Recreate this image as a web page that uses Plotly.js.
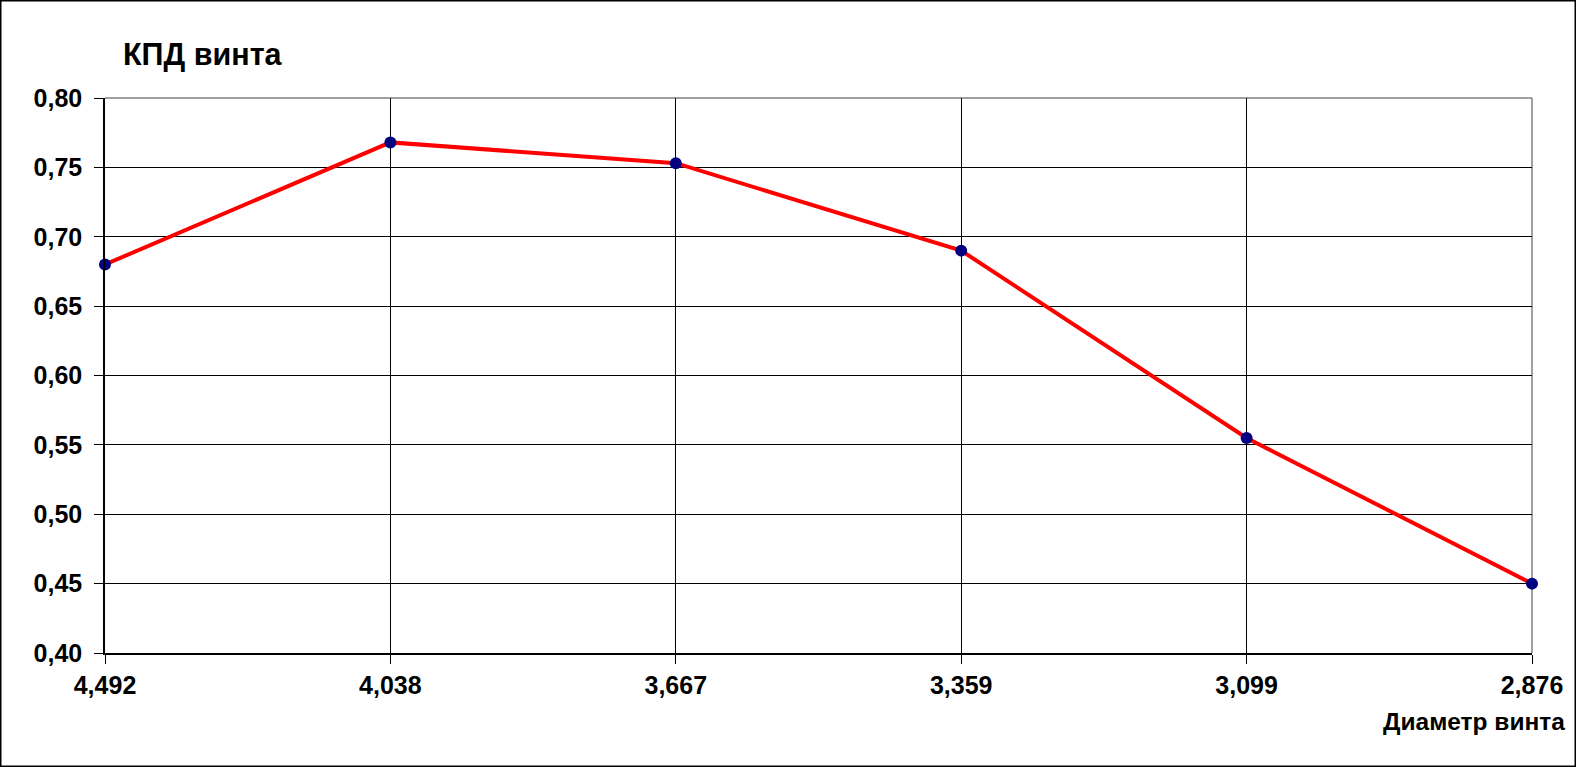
<!DOCTYPE html>
<html><head><meta charset="utf-8">
<script src="https://cdn.plot.ly/plotly-3.0.1.min.js"></script>
<style>html,body{margin:0;padding:0;background:#fff}#chart{width:1576px;height:767px}</style>
</head><body><div id="chart"></div>
<script>
const diameters = ["4,492", "4,038", "3,667", "3,359", "3,099", "2,876"];
const efficiency = [0.680, 0.768, 0.753, 0.690, 0.555, 0.450];
const yTickVals = [0.40, 0.45, 0.50, 0.55, 0.60, 0.65, 0.70, 0.75, 0.80];
const yTickText = ["0,40", "0,45", "0,50", "0,55", "0,60", "0,65", "0,70", "0,75", "0,80"];
const chartTitle = "КПД винта";
const xTitle = "Диаметр винта";

const W = 1576, H = 767;
const m = {l: 105, r: 44, t: 98, b: 114};
const pw = W - m.l - m.r, ph = H - m.t - m.b;
const px = v => (v - m.l) / pw;          // figure px -> paper x
const py = v => (H - m.b - v) / ph;      // figure px -> paper y
const font = "Arial, 'Liberation Sans', sans-serif";

const trace = {
  x: diameters, y: efficiency, type: 'scatter', mode: 'lines+markers',
  line: {color: '#ff0000', width: 4},
  marker: {color: '#000080', size: 12},
  cliponaxis: false,
  hoverinfo: 'x+y', showlegend: false
};

const layout = {
  width: W, height: H,
  margin: m,
  paper_bgcolor: '#ffffff', plot_bgcolor: '#ffffff',
  font: {family: font, color: '#000'},
  title: {text: chartTitle, font: {family: font, size: 30.5, weight: 'bold', color: '#000'},
          x: 123 / W, xanchor: 'left', xref: 'container', y: 1 - 54 / H, yanchor: 'middle', yref: 'container'},
  xaxis: {
    type: 'category', range: [0, diameters.length - 1],
    showgrid: true, gridcolor: '#000', gridwidth: 1,
    showline: true, linecolor: '#000', linewidth: 1.5,
    ticks: 'outside', ticklen: 9, tickcolor: '#000', tickwidth: 1,
    tickfont: {family: font, size: 25, weight: 'bold', color: '#000'},
    ticklabelstandoff: 0,
    zeroline: false, fixedrange: true
  },
  yaxis: {
    range: [0.40, 0.80], tickvals: yTickVals, ticktext: yTickText,
    showgrid: true, gridcolor: '#000', gridwidth: 1,
    showline: true, linecolor: '#000', linewidth: 1.5,
    ticks: 'outside', ticklen: 9, tickcolor: '#000', tickwidth: 1,
    tickfont: {family: font, size: 25, weight: 'bold', color: '#000'},
    ticklabelstandoff: 7,
    zeroline: false, fixedrange: true
  },
  annotations: [{
    text: xTitle, xref: 'paper', yref: 'paper',
    x: px(1567), xanchor: 'right', y: py(721), yanchor: 'middle',
    showarrow: false, font: {family: font, size: 24.5, weight: 'bold', color: '#000'}
  }],
  shapes: [
    {type: 'line', xref: 'paper', yref: 'paper', x0: 0, x1: 1, y0: 1, y1: 1, line: {color: '#808080', width: 1.5}, layer: 'below'},
    {type: 'line', xref: 'paper', yref: 'paper', x0: 1, x1: 1, y0: 0, y1: 1, line: {color: '#808080', width: 1.5}, layer: 'below'},
    {type: 'rect', xref: 'paper', yref: 'paper', x0: px(0.75), x1: px(W - 0.75), y0: py(H - 0.75), y1: py(0.75),
     line: {color: '#000', width: 1.5}, fillcolor: 'rgba(0,0,0,0)'}
  ]
};

Plotly.newPlot('chart', [trace], layout, {displayModeBar: false});
</script>
</body></html>
